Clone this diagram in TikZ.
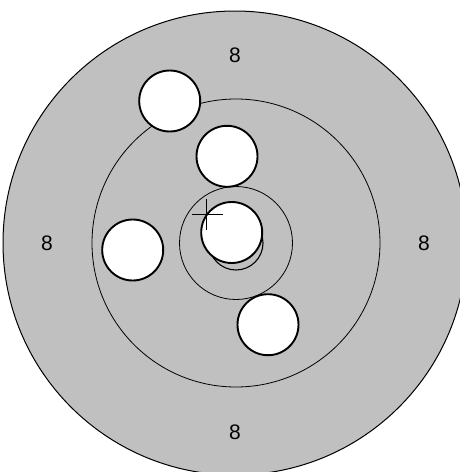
\documentclass[tikz,border=0pt]{standalone}
\usepackage{fontspec}
\setmainfont{Liberation Sans}
\definecolor{disk}{RGB}{192,192,192}
\begin{document}
\begin{tikzpicture}[x=1pt,y=-1pt,
  ring/.style={draw=black,line width=0.8pt},
  hole/.style={draw=black,fill=white,line width=1.9pt},
  lbl/.style={font=\fontsize{21}{24}\selectfont,inner sep=0pt}]
\useasboundingbox (0,0) rectangle (460,472);
\clip (0,0) rectangle (460,472);
\fill[disk,draw=black,line width=1pt] (235,243) circle (232);
\draw[ring] (236,243) circle (144);
\draw[ring] (236,243) circle (56.5);
\draw[ring,line width=1.1pt] (236,243) circle (27);
\node[lbl] (t) at (235,55) {8};
\node[lbl] (l) at (47,243) {8};
\node[lbl] (r) at (424,243) {8};
\node[lbl] (b) at (235,432) {8};
\draw[hole] (169.7,101) circle (30.5);
\draw[hole] (227,156.3) circle (30.5);
\draw[hole] (231.7,232.5) circle (30.5);
\draw[hole] (132.7,250) circle (30.5);
\draw[hole] (268,324.7) circle (30.5);
\draw[line width=1.3pt] (192.3,214.3) -- (222.7,214.3);
\draw[line width=1.3pt] (206.7,199) -- (206.7,230);
\end{tikzpicture}
\end{document}
